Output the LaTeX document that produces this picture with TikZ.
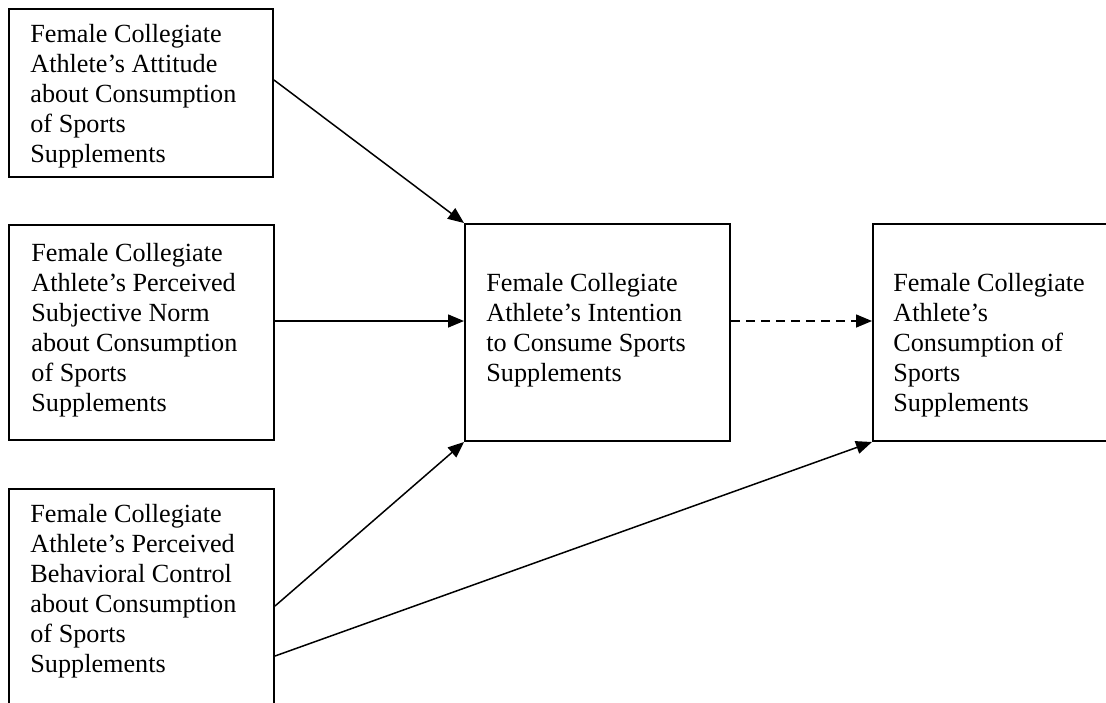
\documentclass[tikz,border=0pt]{standalone}
\usepackage{fontspec}
\setmainfont{Liberation Serif}
\usetikzlibrary{arrows.meta,calc,fit}
\begin{document}
\begin{tikzpicture}[x=0.5pt,y=-0.5pt,
  box/.style={draw, line width=1pt, inner sep=0pt},
  label/.style={anchor=base west, inner sep=0pt, font=\fontsize{13.1}{15}\selectfont},
  link/.style={line width=0.75pt, -{Triangle[length=8pt,width=6.5pt]}},
  plan/.style={link, dash pattern=on 4.5pt off 3pt}]

% page frame
\clip (0,0) rectangle (1106,702);

% boxes
\node[box, fit={(9,9) (273,177)}] (b1) {};
\node[box, fit={(9,225) (274,440)}] (b2) {};
\node[box, fit={(9,489) (274,730)}] (b3) {};
\node[box, fit={(465,224) (730,441)}] (bc) {};
\node[box, fit={(873,224) (1130,441)}] (br) {};

% box texts
\begin{scope}
  \clip (9,9) rectangle (273,167);
  \node[label] (t1) at ($(b1.north west)+(22,34)$) {\parbox[t]{240pt}{\raggedright
    Female Collegiate\\Athlete’s Attitude\\about Consumption\\of Sports\\Supplements}};
\end{scope}
\node[label] (t2) at ($(b2.north west)+(23,37)$) {\parbox[t]{240pt}{\raggedright
  Female Collegiate\\Athlete’s Perceived\\Subjective Norm\\about Consumption\\of Sports\\Supplements}};
\node[label] (t3) at ($(b3.north west)+(22,34)$) {\parbox[t]{240pt}{\raggedright
  Female Collegiate\\Athlete’s Perceived\\Behavioral Control\\about Consumption\\of Sports\\Supplements}};
\node[label] (tc) at ($(bc.north west)+(22,68)$) {\parbox[t]{240pt}{\raggedright
  Female Collegiate\\Athlete’s Intention\\to Consume Sports\\Supplements}};
\node[label] (tr) at ($(br.north west)+(21,68)$) {\parbox[t]{240pt}{\raggedright
  Female Collegiate\\Athlete’s\\Consumption of\\Sports\\Supplements}};

% connector start points
\coordinate (s1) at ($(b1.north east)+(0,72)$);
\coordinate (s2) at ($(b2.north east)+(0,97)$);
\coordinate (sc) at ($(bc.north east)+(0,98)$);
\coordinate (s3a) at ($(b3.north east)+(0,118)$);
\coordinate (s3b) at ($(b3.north east)+(0,168)$);

% connectors
\draw[link] (s1) -- (bc.north west);
\draw[link] (s2) -- (s2 -| bc.west);
\draw[link] (s3a) -- (bc.south west);
\draw[link] (s3b) -- (br.south west);
\draw[plan] (sc) -- (sc -| br.west);
\end{tikzpicture}
\end{document}
